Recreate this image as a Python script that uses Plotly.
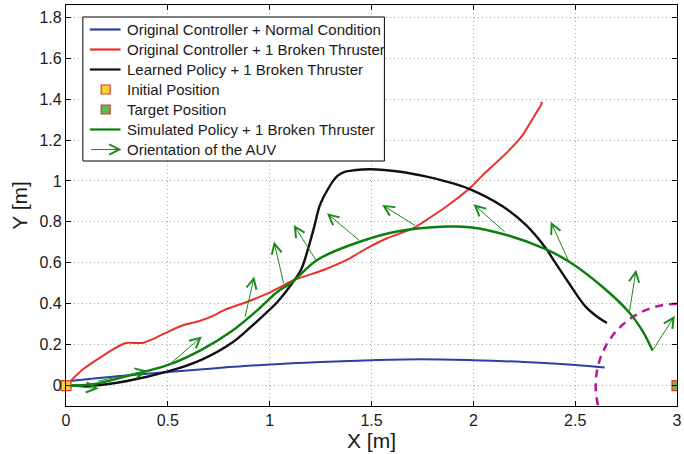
import numpy as np
import plotly.graph_objects as go

# ---- trajectories (metres) ----
normal_x = [0, 0.25, 0.5, 0.75, 1.0, 1.25, 1.5, 1.75, 2.0, 2.25, 2.5, 2.645]
normal_y = [0.02, 0.045, 0.066, 0.086, 0.103, 0.115, 0.124, 0.129, 0.124, 0.115, 0.101, 0.088]

broken_x = [0, 0.082, 0.229, 0.294, 0.375, 0.44, 0.505, 0.586, 0.651, 0.716, 0.781,
            0.894, 0.976, 1.057, 1.122, 1.268, 1.381, 1.479, 1.576, 1.706, 1.819,
            1.868, 1.982, 2.063, 2.161, 2.242, 2.307, 2.336, 2.331]
broken_y = [0, 0.078, 0.176, 0.208, 0.208, 0.233, 0.265, 0.298, 0.314, 0.338, 0.371,
            0.411, 0.444, 0.484, 0.517, 0.566, 0.615, 0.672, 0.72, 0.769, 0.842,
            0.875, 0.964, 1.045, 1.135, 1.224, 1.33, 1.379, 1.387]

learned_x = [0, 0.131, 0.294, 0.505, 0.667, 0.813, 0.91, 1.0, 1.04, 1.105, 1.154, 1.187,
             1.219, 1.244, 1.264, 1.284, 1.31, 1.333, 1.365, 1.414, 1.495, 1.641, 1.771,
             1.868, 1.982, 2.145, 2.258, 2.355, 2.404, 2.469, 2.55, 2.61, 2.656]
learned_y = [0, 0.0, 0.021, 0.07, 0.127, 0.208, 0.289, 0.371, 0.411, 0.493, 0.566, 0.663,
             0.777, 0.875, 0.92, 0.956, 0.998, 1.025, 1.043, 1.052, 1.057, 1.045, 1.021,
             0.997, 0.96, 0.875, 0.785, 0.672, 0.598, 0.501, 0.387, 0.335, 0.306]

sim_x = [0, 0.131, 0.294, 0.505, 0.667, 0.813, 0.943, 1.04, 1.105, 1.235, 1.446, 1.625,
         1.868, 1.982, 2.145, 2.355, 2.469, 2.632, 2.761, 2.827, 2.88]
sim_y = [0, 0.006, 0.045, 0.102, 0.176, 0.265, 0.371, 0.46, 0.501, 0.615, 0.704, 0.753,
         0.777, 0.774, 0.741, 0.667, 0.606, 0.484, 0.362, 0.273, 0.171]

# AUV heading arrows along the simulated path: tail -> tip
arrow_tail_x = [0.0, 0.15, 0.505, 0.878, 1.07, 1.232, 1.446, 1.722, 2.161, 2.469, 2.766, 2.88]
arrow_tail_y = [0.0, 0.02, 0.10, 0.33, 0.493, 0.606, 0.704, 0.777, 0.745, 0.606, 0.358, 0.171]
arrow_tip_x = [0.16, 0.40, 0.667, 0.924, 1.021, 1.118, 1.281, 1.552, 2.001, 2.38, 2.799, 2.989]
arrow_tip_y = [-0.015, 0.072, 0.24, 0.533, 0.704, 0.785, 0.842, 0.883, 0.886, 0.801, 0.566, 0.341]

initial_pos = (0.0, 0.0)
target_pos = (3.0, 0.0)
target_radius = 0.4

legend_labels = [
    "Original Controller + Normal Condition",
    "Original Controller + 1 Broken Thruster",
    "Learned Policy + 1 Broken Thruster",
    "Initial Position",
    "Target Position",
    "Simulated Policy + 1 Broken Thruster",
    "Orientation of the AUV",
]

BLUE = "#2c3fa6"
RED = "#e8322b"
BLACK = "#111111"
GREEN = "#0b800f"
ARROW_GREEN = "#1a8a1a"
MAGENTA = "#b3179f"
YELLOW = "#f3d431"
LIGHTGREEN = "#5cbc4c"
FONT = "Liberation Sans, Arial, Helvetica, sans-serif"

W, H = 684, 454
ML, MR, MT, MB = 66, 2, 5, 48

fig = go.Figure()

# acceptance circle around the target
theta = np.linspace(np.pi / 2, 3 * np.pi / 2, 200)
fig.add_trace(go.Scatter(
    x=target_pos[0] + target_radius * np.cos(theta),
    y=target_pos[1] + target_radius * np.sin(theta),
    mode="lines", line=dict(color=MAGENTA, width=2.5, dash="8px,6px"),
    showlegend=False, hoverinfo="skip"))

fig.add_trace(go.Scatter(x=normal_x, y=normal_y, mode="lines",
                         line=dict(color=BLUE, width=2, shape="spline", smoothing=1.0),
                         name=legend_labels[0]))
fig.add_trace(go.Scatter(x=broken_x, y=broken_y, mode="lines",
                         line=dict(color=RED, width=2, shape="spline", smoothing=0.5),
                         name=legend_labels[1]))
fig.add_trace(go.Scatter(x=learned_x, y=learned_y, mode="lines",
                         line=dict(color=BLACK, width=2.4, shape="spline", smoothing=1.0),
                         name=legend_labels[2]))
fig.add_trace(go.Scatter(x=sim_x, y=sim_y, mode="lines",
                         line=dict(color=GREEN, width=2.5, shape="spline", smoothing=1.0),
                         name=legend_labels[5]))

fig.add_trace(go.Scatter(x=[initial_pos[0]], y=[initial_pos[1]], mode="markers",
                         marker=dict(symbol="square", size=10, color=YELLOW,
                                     line=dict(color=RED, width=1.2)),
                         cliponaxis=False, name=legend_labels[3]))
fig.add_trace(go.Scatter(x=[target_pos[0]], y=[target_pos[1]], mode="markers",
                         marker=dict(symbol="square", size=10, color=LIGHTGREEN,
                                     line=dict(color=RED, width=1.2)),
                         cliponaxis=True, name=legend_labels[4]))

annotations = []
for tx, ty, hx, hy in zip(arrow_tail_x, arrow_tail_y, arrow_tip_x, arrow_tip_y):
    annotations.append(dict(
        x=hx, y=hy, ax=tx, ay=ty, xref="x", yref="y", axref="x", ayref="y",
        text="", showarrow=True, arrowhead=5, arrowsize=2.0, arrowwidth=1,
        arrowcolor=ARROW_GREEN, standoff=0, startstandoff=0))

# ---- boxed legend ----
pw, ph = W - ML - MR, H - MT - MB


def px_x(p):
    return (p - ML) / pw


def px_y(p):
    return (H - MB - p) / ph


shapes = [dict(type="rect", xref="paper", yref="paper",
               x0=px_x(83), x1=px_x(387), y0=px_y(161), y1=px_y(17),
               fillcolor="white", line=dict(color="black", width=1), layer="above")]

row_px = [29.5 + 20 * i for i in range(7)]
line_colors = {0: BLUE, 1: RED, 2: BLACK, 5: GREEN}
marker_fill = {3: YELLOW, 4: LIGHTGREEN}
for i, label in enumerate(legend_labels):
    yy = px_y(row_px[i])
    if i in line_colors:
        shapes.append(dict(type="line", xref="paper", yref="paper",
                           x0=px_x(90), x1=px_x(121), y0=yy, y1=yy,
                           line=dict(color=line_colors[i], width=2.2), layer="above"))
    elif i in marker_fill:
        shapes.append(dict(type="rect", xref="paper", yref="paper",
                           x0=px_x(101.5), x1=px_x(110.5),
                           y0=px_y(row_px[i] + 4.5), y1=px_y(row_px[i] - 4.5),
                           fillcolor=marker_fill[i], line=dict(color=RED, width=1.2),
                           layer="above"))
    else:
        annotations.append(dict(
            x=px_x(122), y=yy, xref="paper", yref="paper", ax=-32, ay=0,
            text="", showarrow=True, arrowhead=5, arrowsize=2.0, arrowwidth=1,
            arrowcolor=ARROW_GREEN, standoff=0))
    annotations.append(dict(
        x=px_x(125), y=yy, xref="paper", yref="paper", text=label, showarrow=False,
        xanchor="left", yanchor="middle", font=dict(family=FONT, size=15, color="#1a1a1a")))

axis_common = dict(
    showline=True, linecolor="black", linewidth=1.2, mirror="ticks",
    ticks="inside", ticklen=5, tickcolor="black", tickwidth=1,
    showgrid=True, gridcolor="#a8a8a8", griddash="1px,3px", gridwidth=1,
    zeroline=False, tickfont=dict(family=FONT, size=16, color="#1a1a1a"),
    ticklabeloverflow="allow",
)

fig.update_layout(
    width=W, height=H,
    margin=dict(l=ML, r=MR, t=MT, b=MB),
    paper_bgcolor="white", plot_bgcolor="white",
    showlegend=False,
    xaxis=dict(range=[0, 3], tickvals=[0, 0.5, 1, 1.5, 2, 2.5, 3],
               title=dict(text="X [m]", font=dict(family=FONT, size=21, color="#1a1a1a"),
                          standoff=4),
               **axis_common),
    yaxis=dict(range=[-0.1, 1.86], tickvals=[0, 0.2, 0.4, 0.6, 0.8, 1, 1.2, 1.4, 1.6, 1.8],
               title=dict(text="Y [m]", font=dict(family=FONT, size=21, color="#1a1a1a"),
                          standoff=6),
               **axis_common),
    shapes=shapes,
    annotations=annotations,
)

fig.write_html("out.html")
